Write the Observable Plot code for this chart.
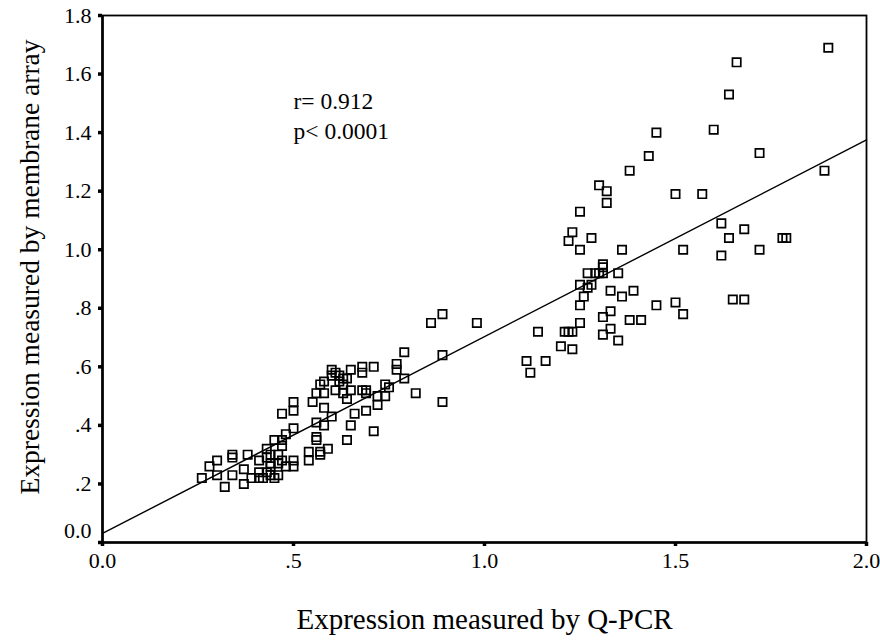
<!DOCTYPE html>
<html><head><meta charset="utf-8">
<script src="https://cdn.jsdelivr.net/npm/d3@7"></script>
<script src="https://cdn.jsdelivr.net/npm/@observablehq/plot@0.6"></script>
<style>
body{margin:0;background:#fff}
#chart svg, #chart svg text{font-family:"Liberation Serif","DejaVu Serif",serif !important}
</style>
</head><body><div id="chart"></div>
<script>
// Expression measured by Q-PCR (x) and by membrane array (y)
const qpcr = [
  1.90,1.66,1.64,1.45,1.60,1.43,1.72,1.38,1.89,1.30,1.32,1.50,1.57,1.32,1.25,1.62,1.68,1.23,1.22,1.64,
  1.78,1.79,1.28,1.25,1.36,1.52,1.72,1.62,1.31,1.31,1.27,1.29,1.30,1.31,1.35,1.25,1.28,1.27,1.33,1.39,
  1.36,1.26,1.45,1.50,1.65,1.68,1.52,1.33,1.25,1.31,1.38,1.41,1.25,0.98,1.14,1.21,1.22,1.23,1.33,1.31,
  1.35,1.20,1.23,1.11,1.16,1.12,0.86,0.89,
  0.79,0.89,0.68,0.71,0.77,0.77,0.60,0.65,0.68,0.79,0.61,0.62,0.63,0.62,0.63,0.64,0.60,0.58,0.57,0.74,
  0.75,0.65,0.68,0.69,0.69,0.56,0.58,0.61,0.63,0.82,0.72,0.74,0.64,0.55,0.72,0.89,0.50,0.50,0.47,0.58,
  0.69,0.66,0.60,0.56,0.58,0.50,0.48,0.65,0.71,0.47,0.45,0.47,0.56,0.56,0.64,0.43,0.54,0.57,0.59,0.54,
  0.57,0.34,0.34,0.38,0.41,0.43,0.44,0.46,0.47,0.30,0.44,0.46,0.44,0.48,0.50,0.50,0.28,0.37,0.41,0.43,
  0.44,0.45,0.46,0.42,0.41,0.39,0.30,0.34,0.26,0.37,0.32
];
const membrane = [
  1.69,1.64,1.53,1.40,1.41,1.32,1.33,1.27,1.27,1.22,1.20,1.19,1.19,1.16,1.13,1.09,1.07,1.06,1.03,1.04,
  1.04,1.04,1.04,1.00,1.00,1.00,1.00,0.98,0.95,0.94,0.92,0.92,0.92,0.92,0.92,0.88,0.88,0.87,0.86,0.86,
  0.84,0.84,0.81,0.82,0.83,0.83,0.78,0.79,0.81,0.77,0.76,0.76,0.75,0.75,0.72,0.72,0.72,0.72,0.73,0.71,
  0.69,0.67,0.66,0.62,0.62,0.58,0.75,0.78,
  0.65,0.64,0.60,0.60,0.61,0.59,0.59,0.59,0.58,0.56,0.58,0.57,0.56,0.55,0.54,0.56,0.57,0.55,0.54,0.54,
  0.53,0.52,0.52,0.51,0.52,0.51,0.51,0.52,0.51,0.51,0.50,0.50,0.49,0.48,0.47,0.48,0.48,0.45,0.44,0.46,
  0.45,0.44,0.43,0.41,0.40,0.39,0.37,0.40,0.38,0.35,0.35,0.33,0.36,0.35,0.35,0.32,0.31,0.31,0.32,0.28,
  0.30,0.30,0.29,0.30,0.28,0.29,0.30,0.30,0.28,0.28,0.27,0.27,0.26,0.26,0.28,0.26,0.26,0.25,0.24,0.24,
  0.23,0.22,0.23,0.22,0.22,0.22,0.23,0.23,0.22,0.20,0.19
];
const xTicks = [0, 0.5, 1, 1.5, 2];
const xTickLabels = ["0.0", ".5", "1.0", "1.5", "2.0"];
const yTicks = [0, 0.2, 0.4, 0.6, 0.8, 1.0, 1.2, 1.4, 1.6, 1.8];
const yTickLabels = ["0.0", ".2", ".4", ".6", ".8", "1.0", "1.2", "1.4", "1.6", "1.8"];
const fitX = [0, 2.0];
const fitY = [0.031, 1.375];
const statsLines = ["r= 0.912", "p< 0.0001"];
const statsX = [0.5, 0.5];
const statsY = [1.508, 1.403];
const xLabel = "Expression measured by Q-PCR";
const yLabel = "Expression measured by membrane array";

const points = qpcr.map((x, i) => ({x, y: membrane[i]}));
const fit = fitX.map((x, i) => ({x, y: fitY[i]}));
const stats = statsLines.map((t, i) => ({t, x: statsX[i], y: statsY[i]}));
const serif = '"Liberation Serif","DejaVu Serif",serif';
const yLabelOf = d => yTickLabels[yTicks.indexOf(d)];

const chart = Plot.plot({
  width: 880, height: 644,
  marginLeft: 102, marginRight: 14, marginTop: 15, marginBottom: 102,
  style: {fontFamily: serif, background: "white", color: "black"},
  x: {domain: [0, 2]},
  y: {domain: [0, 1.8]},
  marks: [
    Plot.frame({stroke: "black", strokeWidth: 1.8}),
    Plot.ruleX([0], {stroke: "black", strokeWidth: 2.6}),
    Plot.ruleY([0], {stroke: "black", strokeWidth: 2.6}),
    Plot.axisX({ticks: xTicks, tickFormat: d => xTickLabels[xTicks.indexOf(d)], tickSize: 4, strokeWidth: 3.5, tickPadding: 6, fontSize: 22, fontFamily: serif, label: null}),
    Plot.axisY({ticks: yTicks, tickFormat: d => d === 0 ? "" : yLabelOf(d), tickSize: 4, strokeWidth: 3.5, tickPadding: 7, fontSize: 22, fontFamily: serif, label: null}),
    Plot.text([0], {y: d => d, text: yLabelOf, frameAnchor: "left", textAnchor: "end", dx: -11, dy: -12, fontSize: 22, fontFamily: serif}),
    Plot.line(fit, {x: "x", y: "y", stroke: "black", strokeWidth: 1.4}),
    Plot.dot(points, {x: "x", y: "y", symbol: "square", r: 4.7, stroke: "black", strokeWidth: 1.7, fill: "none"}),
    Plot.text(stats, {x: "x", y: "y", text: "t", textAnchor: "start", fontSize: 23.5, fontFamily: serif}),
    Plot.text([xLabel], {frameAnchor: "bottom", dy: 86, fontSize: 29, fontFamily: serif}),
    Plot.text([yLabel], {frameAnchor: "left", textAnchor: "middle", dx: -72, dy: -12, rotate: -90, fontSize: 27.5, fontFamily: serif})
  ]
});
document.getElementById("chart").append(chart);
</script>
</body></html>
